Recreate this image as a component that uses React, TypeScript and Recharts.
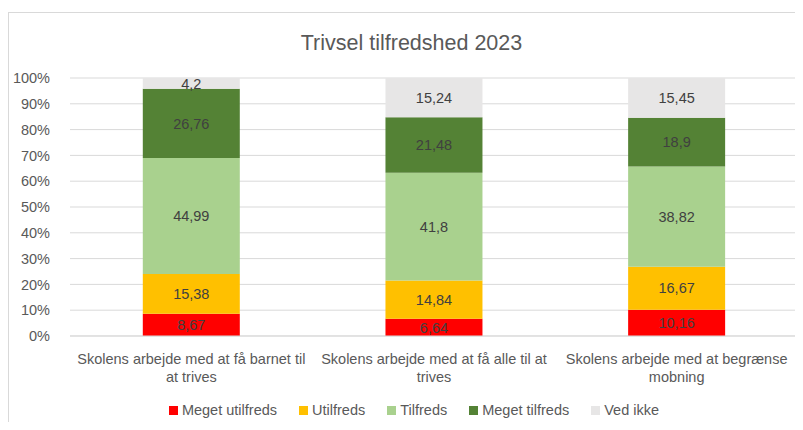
import React from 'react';
import { BarChart, Bar, XAxis, YAxis, CartesianGrid, Legend, LabelList } from 'recharts';

const categories = [
  'Skolens arbejde med at få barnet til\nat trives',
  'Skolens arbejde med at få alle til at\ntrives',
  'Skolens arbejde med at begrænse\nmobning',
];

const megetUtilfreds = [8.67, 6.64, 10.16];
const utilfreds = [15.38, 14.84, 16.67];
const tilfreds = [44.99, 41.8, 38.82];
const megetTilfreds = [26.76, 21.48, 18.9];
const vedIkke = [4.2, 15.24, 15.45];

const yTicks = [0, 0.1, 0.2, 0.3, 0.4, 0.5, 0.6, 0.7, 0.8, 0.9, 1];

const seriesList = [
  { key: 'megetUtilfreds', name: 'Meget utilfreds', color: '#FF0000' },
  { key: 'utilfreds', name: 'Utilfreds', color: '#FFC000' },
  { key: 'tilfreds', name: 'Tilfreds', color: '#A9D18E' },
  { key: 'megetTilfreds', name: 'Meget tilfreds', color: '#548235' },
  { key: 'vedIkke', name: 'Ved ikke', color: '#E7E6E6' },
];

const chartData = categories.map((name, i) => ({
  name,
  megetUtilfreds: megetUtilfreds[i],
  utilfreds: utilfreds[i],
  tilfreds: tilfreds[i],
  megetTilfreds: megetTilfreds[i],
  vedIkke: vedIkke[i],
}));

const FONT = '"Liberation Sans", Arial, sans-serif';
const TEXT = '#595959';
const FS = 14.5;

const CategoryTick = (props: any) => {
  const { x, y, payload } = props;
  const lines = String(payload.value).split('\n');
  return (
    <g transform={`translate(${x},${y})`}>
      {lines.map((line: string, i: number) => (
        <text
          key={i}
          x={0}
          y={i * 18}
          dy={20}
          textAnchor="middle"
          fill={TEXT}
          fontSize={FS}
          fontFamily={FONT}
        >
          {line}
        </text>
      ))}
    </g>
  );
};

// legend drawn in series order (recharts sorts by name otherwise)
const LegendContent = () => (
  <div
    style={{
      display: 'flex',
      justifyContent: 'center',
      paddingLeft: 30,
      fontFamily: FONT,
      fontSize: FS,
      color: TEXT,
    }}
  >
    {seriesList.map((s) => (
      <div key={s.key} style={{ display: 'flex', alignItems: 'center', margin: '0 11px' }}>
        <span style={{ width: 9, height: 9, background: s.color, marginRight: 4, display: 'inline-block' }} />
        <span>{s.name}</span>
      </div>
    ))}
  </div>
);

const fmt = (v: any) => String(v).replace('.', ',');

export default function App() {
  return (
    <div style={{ position: 'relative', margin: -8, width: 803, height: 430, background: '#fff', overflow: 'hidden' }}>
      <div
        style={{
          position: 'absolute',
          left: 8,
          top: 12,
          width: 803,
          height: 430,
          borderLeft: '1px solid #d9d9d9',
          borderTop: '1px solid #d9d9d9',
        }}
      />
      <div
        style={{
          position: 'absolute',
          top: 31,
          left: 0,
          width: 823,
          textAlign: 'center',
          fontFamily: FONT,
          fontSize: 21.5,
          color: TEXT,
        }}
      >
        Trivsel tilfredshed 2023
      </div>
      <div style={{ position: 'absolute', left: 0, top: 0 }}>
        <BarChart
          width={803}
          height={430}
          data={chartData}
          stackOffset="expand"
          barCategoryGap="30%"
          margin={{ top: 78, right: 5, left: 0, bottom: 4 }}
        >
          <CartesianGrid vertical={false} stroke="#d9d9d9" />
          <XAxis
            dataKey="name"
            tick={<CategoryTick />}
            tickLine={false}
            axisLine={{ stroke: '#d9d9d9' }}
            height={66}
            interval={0}
          />
          <YAxis
            width={70}
            ticks={yTicks}
            domain={[0, 1]}
            tickFormatter={(v: number) => `${Math.round(v * 100)}%`}
            tick={{ fill: TEXT, fontSize: FS, fontFamily: FONT }}
            tickLine={false}
            axisLine={false}
            tickMargin={14}
          />
          <Legend verticalAlign="bottom" height={24} content={<LegendContent />} />
          {seriesList.map((s) => (
            <Bar key={s.key} dataKey={s.key} name={s.name} stackId="a" fill={s.color} isAnimationActive={false}>
              <LabelList
                dataKey={s.key}
                position="center"
                formatter={fmt}
                fill="#404040"
                fontSize={FS}
                fontFamily={FONT}
              />
            </Bar>
          ))}
        </BarChart>
      </div>
    </div>
  );
}
